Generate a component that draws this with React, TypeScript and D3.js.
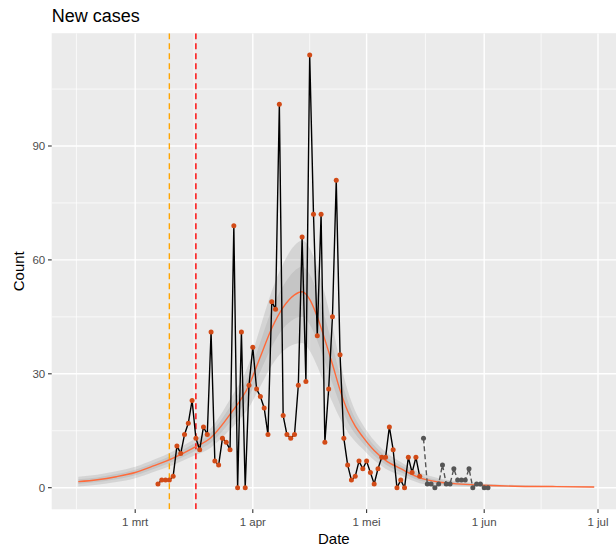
import React from "react";
import * as d3 from "d3";

// ---- data ----
const caseStart = "2020-03-07";
const caseCounts = [1, 2, 2, 2, 3, 11, 9, 14, 17, 23, 13, 10, 16, 14, 41, 7, 6, 13, 12, 10, 69, 0, 41, 0, 27, 37, 26, 24, 21, 14, 49, 47, 101, 19, 14, 13, 14, 27, 66, 28, 114, 72, 40, 72, 12, 26, 45, 81, 35, 13, 6, 2, 3, 7, 5, 7, 4, 1, 5, 8, 8, 16, 10, 0, 2, 0, 8, 4, 8, 3];
const recentStart = "2020-05-16";
const recentCounts = [13, 1, 1, 0, 1, 6, 1, 1, 5, 2, 2, 2, 5, 0, 1, 1, 0, 0];

const smoothDates = ["2020-02-15", "2020-02-20", "2020-02-25", "2020-03-01", "2020-03-06", "2020-03-11", "2020-03-16", "2020-03-21", "2020-03-26", "2020-03-31", "2020-04-03", "2020-04-06", "2020-04-09", "2020-04-12", "2020-04-14", "2020-04-16", "2020-04-18", "2020-04-20", "2020-04-22", "2020-04-24", "2020-04-26", "2020-04-28", "2020-04-30", "2020-05-03", "2020-05-06", "2020-05-10", "2020-05-15", "2020-05-20", "2020-05-25", "2020-05-30", "2020-06-09", "2020-06-19", "2020-06-30"];
const smoothFit = [1.6, 2.1, 2.9, 4.0, 5.8, 7.8, 10.3, 13.2, 19.3, 27, 34.5, 42, 47.5, 50.8, 51.6, 49.6, 45, 39, 32.5, 25.7, 20.2, 16.2, 13.4, 9.8, 7.2, 5.0, 2.6, 1.5, 1.0, 0.7, 0.4, 0.3, 0.2];
const outerHalf = [1.3, 1.3, 1.4, 1.5, 1.6, 1.8, 2.1, 2.6, 4.0, 5.8, 7.8, 9.8, 11.5, 13, 13.5, 13.5, 13, 12, 10, 7.5, 5.5, 4, 3.2, 2.6, 2.2, 1.8, 1.4, 1.0, 0.7, 0.5, 0.3, 0.2, 0.15];
const innerHalf = [0.6, 0.6, 0.7, 0.75, 0.8, 0.9, 1.0, 1.3, 2.0, 2.9, 3.9, 4.9, 5.6, 6.3, 6.6, 6.6, 6.3, 5.8, 5, 3.8, 2.8, 2, 1.6, 1.3, 1.1, 0.9, 0.7, 0.5, 0.35, 0.25, 0.15, 0.1, 0.08];

const eventDates = ["2020-03-10", "2020-03-17"];
const eventColors = ["#FFA500", "#FF0000"];

const xBreaks = ["2020-03-01", "2020-04-01", "2020-05-01", "2020-06-01", "2020-07-01"];
const xLabels = ["1 mrt", "1 apr", "1 mei", "1 jun", "1 jul"];
const xMinor = ["2020-02-14T12:00", "2020-03-16T12:00", "2020-04-16", "2020-05-16T12:00", "2020-06-16"];
const yBreaks = [0, 30, 60, 90];
const yMinor = [15, 45, 75, 105];

const W = 616;
const H = 550;
const pL = 51.7, pR = 616, pT = 33.2, pB = 509.3;
const FONT = "'Liberation Sans', Arial, Helvetica, sans-serif";

const parse = (s: string) => new Date(s.length > 10 ? s + ":00Z" : s + "T00:00:00Z");

export default function App() {
  const x = d3.scaleUtc().domain([parse("2020-03-01"), parse("2020-07-01")]).range([135.2, 598]);
  const y = d3.scaleLinear().domain([0, 90]).range([487.7, 146]);

  const cases = caseCounts.map((v, i) => ({ date: d3.utcDay.offset(parse(caseStart), i), v }));
  const recent = recentCounts.map((v, i) => ({ date: d3.utcDay.offset(parse(recentStart), i), v }));
  const smooth = smoothDates.map((s, i) => ({ date: parse(s), fit: smoothFit[i], o: outerHalf[i], n: innerHalf[i] }));

  const lineGen = d3.line<{ date: Date; v: number }>().x(d => x(d.date)).y(d => y(d.v));
  const fitLine = d3.line<any>().x(d => x(d.date)).y(d => y(d.fit)).curve(d3.curveMonotoneX);
  const outerArea = d3.area<any>().x(d => x(d.date)).y0(d => y(d.fit - d.o)).y1(d => y(d.fit + d.o)).curve(d3.curveMonotoneX);
  const innerArea = d3.area<any>().x(d => x(d.date)).y0(d => y(d.fit - d.n)).y1(d => y(d.fit + d.n)).curve(d3.curveMonotoneX);

  return (
    <svg width={W} height={H} style={{ position: "absolute", left: 0, top: 0, background: "#fff" }} fontFamily={FONT}>
      <defs>
        <clipPath id="panel">
          <rect x={pL} y={pT} width={pR - pL} height={pB - pT} />
        </clipPath>
      </defs>
      <rect x={0} y={0} width={W} height={H} fill="#fff" />
      <rect x={pL} y={pT} width={pR - pL} height={pB - pT} fill="#EBEBEB" />
      <g clipPath="url(#panel)">
        {yMinor.map(v => (
          <line key={"ym" + v} x1={pL} x2={pR} y1={y(v)} y2={y(v)} stroke="#fff" strokeWidth={0.7} />
        ))}
        {xMinor.map(s => (
          <line key={"xm" + s} x1={x(parse(s))} x2={x(parse(s))} y1={pT} y2={pB} stroke="#fff" strokeWidth={0.7} />
        ))}
        {yBreaks.map(v => (
          <line key={"yM" + v} x1={pL} x2={pR} y1={y(v)} y2={y(v)} stroke="#fff" strokeWidth={1.4} />
        ))}
        {xBreaks.map(s => (
          <line key={"xM" + s} x1={x(parse(s))} x2={x(parse(s))} y1={pT} y2={pB} stroke="#fff" strokeWidth={1.4} />
        ))}
        <path d={outerArea(smooth) || ""} fill="#999999" fillOpacity={0.27} />
        <path d={innerArea(smooth) || ""} fill="#999999" fillOpacity={0.25} />
        {eventDates.map((s, i) => (
          <line key={"ev" + s} x1={x(parse(s))} x2={x(parse(s))} y1={pT} y2={pB} stroke={eventColors[i]} strokeWidth={1.4} strokeDasharray="6,4" />
        ))}
        <path d={fitLine(smooth) || ""} fill="none" stroke="#FF6A3A" strokeWidth={1.4} />
        <path d={lineGen(cases) || ""} fill="none" stroke="#000" strokeWidth={1.4} strokeLinejoin="round" />
        <path d={lineGen(recent) || ""} fill="none" stroke="#555555" strokeWidth={1.4} strokeDasharray="5,3" />
        {cases.map((d, i) => (
          <circle key={"c" + i} cx={x(d.date)} cy={y(d.v)} r={2.5} fill="#D24B17" />
        ))}
        {recent.map((d, i) => (
          <circle key={"r" + i} cx={x(d.date)} cy={y(d.v)} r={2.5} fill="#555555" />
        ))}
      </g>
      {/* y axis */}
      {yBreaks.map(v => (
        <g key={"yt" + v}>
          <line x1={pL - 3.7} x2={pL} y1={y(v)} y2={y(v)} stroke="#333333" strokeWidth={1.1} />
          <text x={pL - 6.5} y={y(v)} dy="0.35em" textAnchor="end" fontSize={11.5} fill="#4D4D4D">{v}</text>
        </g>
      ))}
      {/* x axis */}
      {xBreaks.map((s, i) => (
        <g key={"xt" + s}>
          <line x1={x(parse(s))} x2={x(parse(s))} y1={pB} y2={pB + 3.7} stroke="#333333" strokeWidth={1.1} />
          <text x={x(parse(s))} y={pB + 16.3} textAnchor="middle" fontSize={11.5} fill="#4D4D4D">{xLabels[i]}</text>
        </g>
      ))}
      <text x={(pL + pR) / 2} y={543.5} textAnchor="middle" fontSize={15} fill="#000">Date</text>
      <text transform={`translate(24,${(pT + pB) / 2}) rotate(-90)`} textAnchor="middle" fontSize={15} fill="#000">Count</text>
      <text x={pL} y={21.7} fontSize={18} fill="#000">New cases</text>
    </svg>
  );
}
